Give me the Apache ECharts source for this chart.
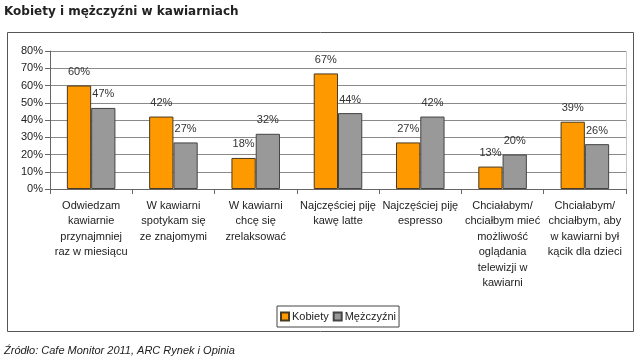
<!DOCTYPE html>
<html>
<head>
<meta charset="utf-8">
<script src="https://cdn.jsdelivr.net/npm/echarts@6/dist/echarts.min.js"></script>
<style>html,body{margin:0;padding:0;background:#fff;}#c{width:640px;height:363px;}</style>
</head>
<body>
<div id="c"></div>
<script>
var categories = [
  "Odwiedzam\nkawiarnie\nprzynajmniej\nraz w miesiącu",
  "W kawiarni\nspotykam się\nze znajomymi",
  "W kawiarni\nchcę się\nzrelaksować",
  "Najczęściej piję\nkawę latte",
  "Najczęściej piję\nespresso",
  "Chciałabym/\nchciałbym mieć\nmożliwość\noglądania\ntelewizji w\nkawiarni",
  "Chciałabym/\nchciałbym, aby\nw kawiarni był\nkącik dla dzieci"
];
var kobiety = [60, 42, 18, 67, 27, 13, 39];
var mezczyzni = [47, 27, 32, 44, 42, 20, 26];
var seriesNames = ["Kobiety", "Mężczyźni"];
var yTicks = [0, 10, 20, 30, 40, 50, 60, 70, 80];

var chart = echarts.init(document.getElementById('c'), null, {renderer: 'canvas'});
var font = 'Liberation Sans, Arial, sans-serif';
var labelStyle = {show: true, position: 'top', distance: 8, formatter: '{c}%', fontFamily: font, fontSize: 11, color: '#333'};
chart.setOption({
  animation: false,
  title: {
    text: 'Kobiety i mężczyźni w kawiarniach',
    left: 0, top: 6, padding: [0, 0, 0, 4],
    textStyle: {fontFamily: 'DejaVu Sans, Verdana, sans-serif', fontSize: 12, fontWeight: 'bold', color: '#222'}
  },
  graphic: [
    {type: 'rect', shape: {x: 7.5, y: 32.5, width: 626, height: 299}, style: {fill: 'none', stroke: '#555', lineWidth: 1}, z: -1},
    {type: 'rect', shape: {x: 50.5, y: 51.5, width: 576, height: 138}, style: {fill: 'none', stroke: '#c8c8c8', lineWidth: 1}, z: -1},
    {type: 'text', left: 4, top: 345, style: {text: 'Źródło: Cafe Monitor 2011, ARC Rynek i Opinia', font: 'italic 11px Liberation Sans, Arial, sans-serif', fill: '#222'}}
  ],
  legend: {
    data: seriesNames,
    left: 277, top: 306,
    orient: 'horizontal',
    icon: 'rect',
    itemWidth: 8, itemHeight: 8, itemGap: 4,
    padding: [5, 3],
    borderColor: '#444', borderWidth: 1,
    textStyle: {fontFamily: font, fontSize: 11, color: '#222', padding: [0, 0, 0, -2]}
  },
  grid: {left: 50, top: 51, width: 576, height: 138, containLabel: false},
  xAxis: {
    type: 'category',
    data: categories,
    axisLine: {lineStyle: {color: '#666'}},
    axisTick: {show: true, length: 5, lineStyle: {color: '#666'}},
    axisLabel: {interval: 0, margin: 9, fontFamily: font, fontSize: 11, lineHeight: 15.5, color: '#222'}
  },
  yAxis: {
    type: 'value',
    min: 0, max: 80, interval: 10,
    axisLine: {show: true, lineStyle: {color: '#666'}},
    axisTick: {show: true, length: 5, lineStyle: {color: '#666'}},
    splitLine: {show: true, lineStyle: {color: '#8a8a8a'}},
    axisLabel: {margin: 7, fontFamily: font, fontSize: 11, color: '#222', formatter: function(v){ return yTicks.indexOf(v) >= 0 ? v + '%' : ''; }}
  },
  series: [
    {name: seriesNames[0], type: 'bar', data: kobiety, barGap: '0%', barCategoryGap: '41%',
     itemStyle: {color: '#FF9900', borderColor: '#4a3a20', borderWidth: 1}, label: labelStyle},
    {name: seriesNames[1], type: 'bar', data: mezczyzni,
     itemStyle: {color: '#999999', borderColor: '#444', borderWidth: 1}, label: labelStyle}
  ]
});
</script>
</body>
</html>
